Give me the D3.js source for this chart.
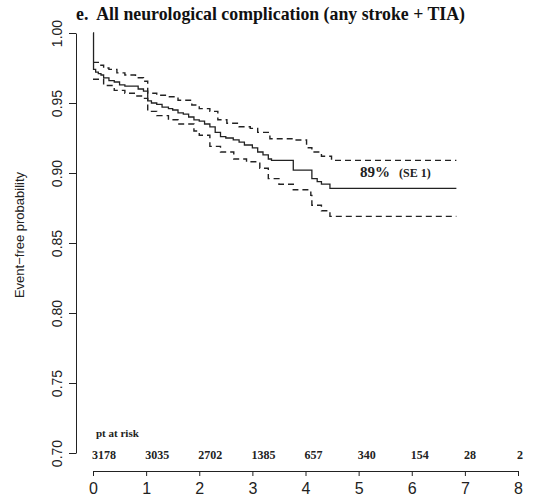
<!DOCTYPE html>
<html>
<head>
<meta charset="utf-8">
<script src="https://cdn.jsdelivr.net/npm/d3@7"></script>
<style>
  html, body { margin: 0; padding: 0; background: #fff; }
  svg { display: block; }
</style>
</head>
<body>
<svg id="chart" width="533" height="501"></svg>
<script>
// Kaplan–Meier estimate (years, event-free probability)
const kmTime = [0, 0.01, 0.05, 0.1, 0.15, 0.2, 0.3, 0.4, 0.5, 0.6, 0.85, 0.95, 1.03, 1.1, 1.2, 1.3, 1.42, 1.5, 1.6, 1.7, 1.8, 1.9, 2.0, 2.1, 2.2, 2.3, 2.4, 2.5, 2.64, 2.75, 2.85, 3.0, 3.1, 3.2, 3.3, 3.36, 3.77, 4.12, 4.22, 4.3, 4.46, 6.84];
const kmSurv = [1.0, 0.974, 0.972, 0.971, 0.970, 0.968, 0.966, 0.965, 0.963, 0.962, 0.960, 0.9585, 0.9515, 0.950, 0.949, 0.947, 0.946, 0.945, 0.943, 0.942, 0.940, 0.938, 0.937, 0.935, 0.933, 0.929, 0.926, 0.925, 0.9236, 0.922, 0.920, 0.918, 0.915, 0.913, 0.910, 0.909, 0.902, 0.896, 0.8938, 0.892, 0.889, 0.889];

// Upper confidence band
const upTime = [0, 0.1, 0.2, 0.3, 0.45, 0.6, 0.8, 0.95, 1.03, 1.2, 1.42, 1.6, 1.86, 2.0, 2.2, 2.35, 2.52, 2.75, 2.96, 3.1, 3.33, 3.77, 4.02, 4.12, 4.3, 4.49, 6.84];
const upSurv = [0.979, 0.977, 0.975, 0.974, 0.9715, 0.970, 0.968, 0.9655, 0.957, 0.9555, 0.9545, 0.952, 0.9486, 0.946, 0.944, 0.938, 0.9355, 0.933, 0.9319, 0.929, 0.9245, 0.9236, 0.918, 0.915, 0.912, 0.909, 0.909];

// Lower confidence band
const loTime = [0, 0.2, 0.4, 0.6, 0.8, 0.95, 1.03, 1.2, 1.42, 1.6, 1.9, 2.0, 2.2, 2.4, 2.65, 2.89, 3.14, 3.3, 3.5, 3.77, 4.1, 4.12, 4.3, 4.46, 6.84];
const loSurv = [0.967, 0.9625, 0.959, 0.957, 0.955, 0.9533, 0.944, 0.941, 0.938, 0.935, 0.930, 0.927, 0.919, 0.915, 0.910, 0.908, 0.9034, 0.896, 0.892, 0.888, 0.884, 0.877, 0.873, 0.869, 0.869];

const yTicks = [0.70, 0.75, 0.80, 0.85, 0.90, 0.95, 1.00];
const xTicks = [0, 1, 2, 3, 4, 5, 6, 7, 8];
const atRisk = [3178, 3035, 2702, 1385, 657, 340, 154, 28, 2];

const titleText = "e.  All neurological complication (any stroke + TIA)";
const yLabel = "Event\u2212free probability";
const riskLabel = "pt at risk";
const finalValue = 0.89;
const finalLabel = "89%";
const seLabel = "(SE 1)";

const svg = d3.select("#chart");

const x = d3.scaleLinear().domain([0, 8]).range([93, 518]);
const y = d3.scaleLinear().domain([0.70, 1.00]).range([453, 33]);

const serif = "'Liberation Serif', 'Times New Roman', serif";
const sans = "'Liberation Sans', Arial, sans-serif";

// title
svg.append("text")
  .attr("x", 76).attr("y", 20)
  .attr("font-family", serif).attr("font-weight", "bold").attr("font-size", 17.8)
  .attr("fill", "#111")
  .attr("xml:space", "preserve")
  .style("white-space", "pre")
  .text(titleText);

// y axis
const yAxis = svg.append("g")
  .attr("transform", `translate(76,0)`)
  .call(d3.axisLeft(y).tickValues(yTicks).tickFormat(d3.format(".2f")).tickSize(7).tickSizeOuter(0));
yAxis.select(".domain").attr("stroke", "#222");
yAxis.selectAll(".tick line").attr("stroke", "#222");
yAxis.selectAll(".tick text")
  .attr("font-family", sans).attr("font-size", 14).attr("fill", "#222")
  .attr("transform", "rotate(-90)")
  .attr("x", 0).attr("y", -14).attr("dy", "0")
  .attr("text-anchor", "middle");

svg.append("text")
  .attr("transform", `translate(24,235) rotate(-90)`)
  .attr("text-anchor", "middle")
  .attr("font-family", sans).attr("font-size", 13).attr("fill", "#222")
  .text(yLabel);

// x axis
const xAxis = svg.append("g")
  .attr("transform", `translate(0,471)`)
  .call(d3.axisBottom(x).tickValues(xTicks).tickFormat(d3.format("d")).tickSize(5).tickSizeOuter(0));
xAxis.select(".domain").attr("stroke", "#222");
xAxis.selectAll(".tick line").attr("stroke", "#222");
xAxis.selectAll(".tick text")
  .attr("font-family", sans).attr("font-size", 16).attr("fill", "#222")
  .attr("y", 12).attr("dy", "0.71em");

// numbers at risk
svg.append("text")
  .attr("x", x(0) + 3).attr("y", 437)
  .attr("font-family", serif).attr("font-weight", "bold").attr("font-size", 11)
  .attr("fill", "#222")
  .text(riskLabel);

svg.append("g").selectAll("text")
  .data(atRisk)
  .join("text")
  .attr("x", (d, i) => x(xTicks[i]) - 1)
  .attr("y", 459)
  .attr("font-family", serif).attr("font-weight", "bold").attr("font-size", 12)
  .attr("fill", "#222")
  .text(d => d);

// survival curves
const step = d3.line()
  .x(d => x(d[0]))
  .y(d => y(d[1]))
  .curve(d3.curveStepAfter);

const zip = (ts, ss) => ts.map((t, i) => [t, ss[i]]);

svg.append("path")
  .attr("d", step(zip(upTime, upSurv)))
  .attr("fill", "none").attr("stroke", "#222").attr("stroke-width", 1.4)
  .attr("stroke-dasharray", "6,4");

svg.append("path")
  .attr("d", step(zip(loTime, loSurv)))
  .attr("fill", "none").attr("stroke", "#222").attr("stroke-width", 1.4)
  .attr("stroke-dasharray", "6,4");

svg.append("path")
  .attr("d", step(zip(kmTime, kmSurv)))
  .attr("fill", "none").attr("stroke", "#222").attr("stroke-width", 1.3);

// final estimate annotation
const ann = svg.append("text")
  .attr("x", 360).attr("y", y(finalValue) - 10)
  .attr("font-family", serif).attr("font-weight", "bold")
  .attr("fill", "#222");
ann.append("tspan").attr("font-size", 15).text(finalLabel);
ann.append("tspan").attr("font-size", 12).attr("dx", 9).text(seLabel);
</script>
</body>
</html>
